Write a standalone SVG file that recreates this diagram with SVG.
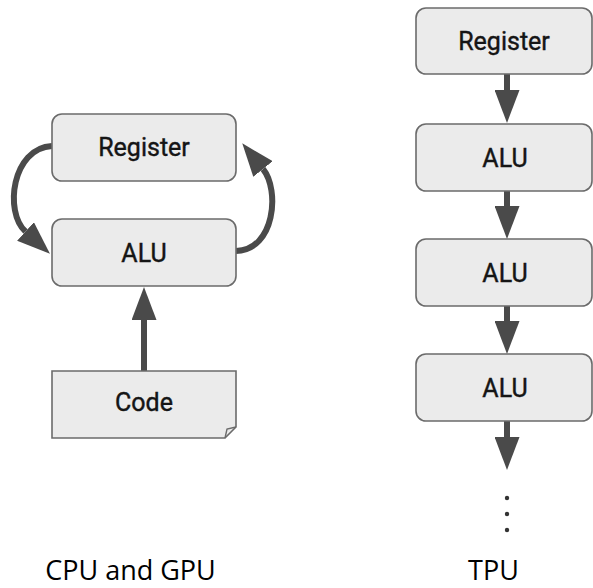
<svg xmlns="http://www.w3.org/2000/svg" width="593" height="588" viewBox="0 0 593 588">
<style>
.box{fill:#ebebeb;stroke:#6b6b6b;stroke-width:1.6}
.lbl{font-family:Roboto,"Liberation Sans",sans-serif;font-size:25px;fill:#151515;stroke:#151515;stroke-width:0.4;text-anchor:middle}
.cap{font-family:"Open Sans","Liberation Sans",sans-serif;font-size:27px;fill:#000;text-anchor:middle}
.conn{fill:none;stroke:#4a4a4a;stroke-width:6;marker-end:url(#ah)}
</style>
<defs>
<marker id="ah" markerUnits="userSpaceOnUse" viewBox="0 0 33 25" markerWidth="33" markerHeight="25" refX="0" refY="12.5" orient="auto">
<path d="M0,0 L33,12.5 L0,25 Z" fill="#4a4a4a"/>
</marker>
</defs>
<rect width="593" height="588" fill="#fff"/>
<g id="connectors">
<path class="conn" d="M52,146 C12,148 4,212 25.5,231.5"/>
<path class="conn" d="M236,251 C275,250 280,190 263,169"/>
<path class="conn" d="M144,371 L144,320"/>
<path class="conn" d="M507,74 L507,90"/>
<path class="conn" d="M507,191 L507,206"/>
<path class="conn" d="M507,306 L507,321"/>
<path class="conn" d="M507,421 L507,437"/>
</g>
<g id="cpu-register"><rect class="box" x="52" y="114" width="184" height="67" rx="10"/><text class="lbl" x="144" y="156">Register</text></g>
<g id="cpu-alu"><rect class="box" x="52" y="219" width="184" height="67" rx="10"/><text class="lbl" x="144" y="261.5">ALU</text></g>
<g id="code"><path class="box" d="M52,371 H236 V427 L225,438 H52 Z"/><path d="M225,438 L227,429 L236,427" fill="none" stroke="#6b6b6b" stroke-width="1.4"/><text class="lbl" x="144" y="411">Code</text></g>
<g id="tpu-register"><rect class="box" x="416" y="8" width="176" height="66" rx="10"/><text class="lbl" x="504" y="50">Register</text></g>
<g id="tpu-alu1"><rect class="box" x="416" y="124" width="176" height="67" rx="10"/><text class="lbl" x="505" y="166.5">ALU</text></g>
<g id="tpu-alu2"><rect class="box" x="416" y="239" width="176" height="67" rx="10"/><text class="lbl" x="505" y="281.5">ALU</text></g>
<g id="tpu-alu3"><rect class="box" x="416" y="354" width="176" height="67" rx="10"/><text class="lbl" x="505" y="396.5">ALU</text></g>
<g id="dots" fill="#333"><circle cx="507" cy="498" r="2.2"/><circle cx="507" cy="514" r="2.2"/><circle cx="507" cy="530" r="2.2"/></g>
<g id="captions"><text class="cap" x="130.5" y="580">CPU and GPU</text><text class="cap" x="493.5" y="580">TPU</text></g>
</svg>
